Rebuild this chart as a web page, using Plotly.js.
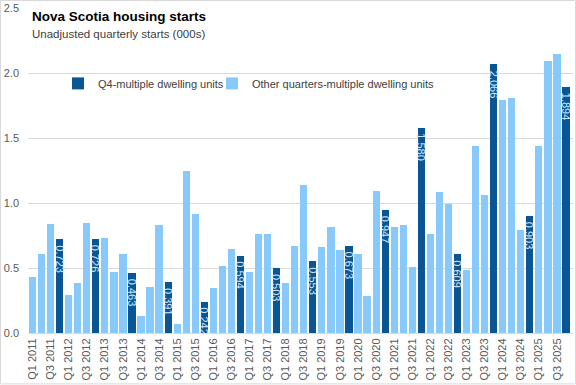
<!DOCTYPE html>
<html>
<head>
<meta charset="utf-8">
<script src="https://cdn.plot.ly/plotly-3.0.1.min.js"></script>
<style>html,body{margin:0;padding:0;background:#fff;}#chart{width:576px;height:385px;}</style>
</head>
<body>
<div id="chart"></div>
<script>
const years = [2011,2012,2013,2014,2015,2016,2017,2018,2019,2020,2021,2022,2023,2024,2025];
const quarters = ["Q1","Q2","Q3","Q4"];
const categories = [];
years.forEach(y => quarters.forEach(q => categories.push(q + " " + y)));

// Q4 multiple dwelling units (000s), one per year
const q4Values = [0.723,0.726,0.463,0.391,0.242,0.594,0.503,0.553,0.673,0.947,1.580,0.609,2.066,0.903,1.894];
// Other quarters (Q1,Q2,Q3) per year
const otherValues = [
  0.43,0.604,0.835,
  0.296,0.381,0.85,
  0.727,0.473,0.61,
  0.129,0.352,0.827,
  0.068,1.25,0.912,
  0.345,0.519,0.65,
  0.473,0.758,0.765,
  0.381,0.673,1.142,
  0.665,0.819,0.635,
  0.61,0.288,1.096,
  0.812,0.827,0.504,
  0.765,1.088,0.996,
  0.488,1.442,1.058,
  1.796,1.81,0.796,
  1.442,2.096,2.15
];
const tickLabels = categories.filter(c => c.startsWith("Q1") || c.startsWith("Q3"));

const q4Y = [], otherY = [];
let qi = 0, oi = 0;
categories.forEach(c => {
  if (c.startsWith("Q4")) { q4Y.push(q4Values[qi++]); otherY.push(null); }
  else { q4Y.push(null); otherY.push(otherValues[oi++]); }
});

const W = 576, H = 385;
const M = {l: 28, r: 3, t: 8, b: 51.5};
const pw = W - M.l - M.r, ph = H - M.t - M.b;

const font = "Liberation Sans, Arial, sans-serif";
const traces = [
  {
    type: "bar", name: "Q4-multiple dwelling units",
    x: categories, y: q4Y,
    marker: {color: "#0a5694"},
    legend: "legend",
    hoverinfo: "x+y"
  },
  {
    type: "bar", name: "Other quarters-multiple dwelling units",
    x: categories, y: otherY,
    marker: {color: "#88c9fb"},
    legend: "legend2",
    hoverinfo: "x+y"
  }
];

const labelAnns = [];
categories.forEach((c, i) => {
  if (q4Y[i] != null) {
    labelAnns.push({
      x: c, y: q4Y[i], xref: "x", yref: "y",
      text: q4Y[i].toFixed(3), textangle: 90, showarrow: false,
      xanchor: "center", yanchor: "top", yshift: -5, borderpad: 0,
      font: {family: font, size: 11, color: "#cfe8fc"}
    });
  }
});

const legendBase = {orientation: "h", xanchor: "left", y: 0.768, yanchor: "middle",
  font: {family: font, size: 11, color: "#404040"}, bgcolor: "rgba(0,0,0,0)"};

const layout = {
  width: W, height: H,
  margin: M,
  barmode: "stack", bargap: 0.2,
  paper_bgcolor: "#fff", plot_bgcolor: "#fff",
  font: {family: font, size: 11, color: "#595959"},
  showlegend: true,
  legend: Object.assign({}, legendBase, {x: (58 - M.l) / pw}),
  legend2: Object.assign({}, legendBase, {x: (212 - M.l) / pw}),
  xaxis: {type: "category", tickmode: "array", tickvals: tickLabels, ticktext: tickLabels,
          tickangle: -90, showgrid: false, showline: true, linecolor: "#d9d9d9", linewidth: 1,
          ticks: "", tickfont: {family: font, size: 11, color: "#595959"}, fixedrange: true},
  yaxis: {range: [0, 2.5], dtick: 0.5, tickformat: ".1f", showgrid: true, gridcolor: "#d9d9d9",
          gridwidth: 1, zeroline: false, ticks: "", showline: false, ticklabelstandoff: 8,
          tickfont: {family: font, size: 11, color: "#595959"}, fixedrange: true},
  annotations: [
    {xref: "paper", yref: "paper", x: (30 - M.l) / pw, y: (H - M.b - 17) / ph, xanchor: "left", yanchor: "middle",
     text: "<b>Nova Scotia housing starts</b>", showarrow: false,
     font: {family: font, size: 13.5, color: "#000"}},
    {xref: "paper", yref: "paper", x: (30 - M.l) / pw, y: (H - M.b - 34) / ph, xanchor: "left", yanchor: "middle",
     text: "Unadjusted quarterly starts (000s)", showarrow: false,
     font: {family: font, size: 11.5, color: "#404040"}}
  ].concat(labelAnns),
  shapes: [
    {type: "rect", xref: "paper", yref: "paper",
     x0: (0.5 - M.l) / pw, x1: (W - 0.5 - M.l) / pw,
     y0: -(M.b - 0.5) / ph, y1: (H - M.b - 0.5) / ph,
     line: {color: "#d9d9d9", width: 1}, fillcolor: "rgba(0,0,0,0)", layer: "below"}
  ]
};

Plotly.newPlot("chart", traces, layout, {displayModeBar: false, staticPlot: true});
</script>
</body>
</html>
